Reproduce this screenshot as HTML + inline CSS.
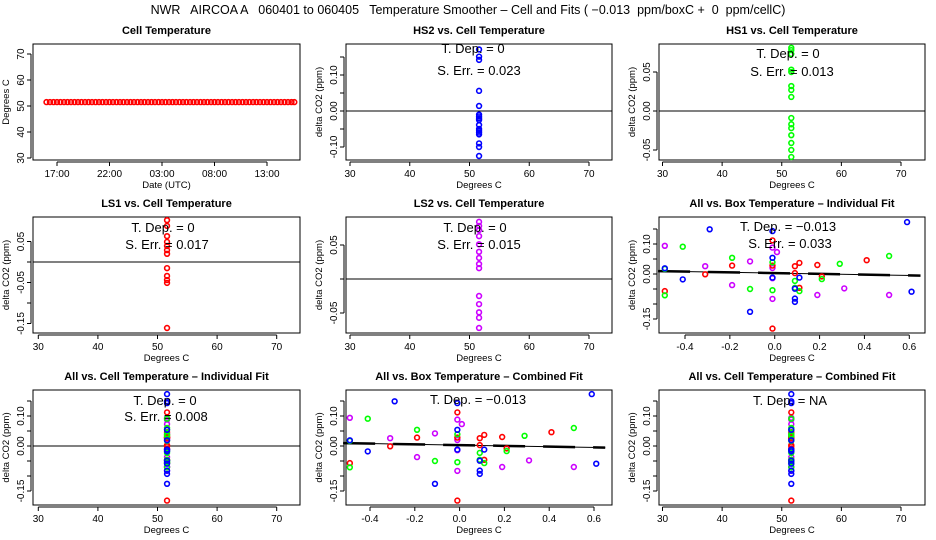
<!DOCTYPE html>
<html><head><meta charset="utf-8"><style>
body{margin:0;background:#fff;}
svg{display:block;font-family:"Liberation Sans",sans-serif;}
</style></head><body>
<svg id="c" width="936" height="540" viewBox="0 0 936 540">
<text x="468" y="14" text-anchor="middle" font-size="12.5" xml:space="preserve">NWR   AIRCOA A   060401 to 060405   Temperature Smoother – Cell and Fits ( −0.013  ppm/boxC +  0  ppm/cellC)</text>
</svg>
<script>
const cellTimes=[16,16.33,16.67,17,17.33,17.67,18,18.33,18.67,19,19.33,19.67,20,20.33,20.67,21,21.33,21.67,22,22.33,22.67,23,23.33,23.67,24,24.33,24.67,25,25.33,25.67,26,26.33,26.67,27,27.33,27.67,28,28.33,28.67,29,29.33,29.67,30,30.33,30.67,31,31.33,31.67,32,32.33,32.67,33,33.33,33.67,34,34.33,34.67,35,35.33,35.67,36,36.33,36.67,37,37.33,37.67,38,38.33,38.67,39,39.33,39.6];
const cellTemps=[51.5,51.5,51.5,51.5,51.5,51.5,51.5,51.5,51.5,51.5,51.5,51.5,51.5,51.5,51.5,51.5,51.5,51.5,51.5,51.5,51.5,51.5,51.5,51.5,51.5,51.5,51.5,51.5,51.5,51.5,51.5,51.5,51.5,51.5,51.5,51.5,51.5,51.5,51.5,51.5,51.5,51.5,51.5,51.5,51.5,51.5,51.5,51.5,51.5,51.5,51.5,51.5,51.5,51.5,51.5,51.5,51.5,51.5,51.5,51.5,51.5,51.5,51.5,51.5,51.5,51.5,51.5,51.5,51.5,51.5,51.5,51.5];
const timeTicks=[17,22,27,32,37];
const timeTickLabels=["17:00","22:00","03:00","08:00","13:00"];
const cellT=51.6;
const hs2=[0.171,0.151,0.142,0.056,0.014,-0.01,-0.015,-0.02,-0.025,-0.039,-0.05,-0.055,-0.06,-0.065,-0.09,-0.1,-0.125];
const hs1=[0.081,0.078,0.073,0.053,0.05,0.032,0.027,0.018,-0.009,-0.017,-0.022,-0.031,-0.041,-0.05,-0.059];
const ls1=[0.102,0.088,0.063,0.049,0.039,0.029,0.02,-0.015,-0.034,-0.044,-0.051,-0.161];
const ls2=[0.084,0.078,0.072,0.063,0.051,0.04,0.031,0.022,0.016,-0.025,-0.037,-0.049,-0.057,-0.072];
const boxBlueX=[-0.49,-0.41,-0.29,-0.11,-0.01,-0.01,0.09,0.09,0.09,0.11,0.59,0.61,-0.01];
const boxBlueY=[0.019,-0.018,0.149,-0.126,0.143,0.054,-0.049,-0.082,-0.093,-0.012,0.173,-0.059,-0.012];
const boxGreenX=[-0.49,-0.49,-0.41,-0.19,-0.11,-0.01,-0.01,0.09,0.09,0.11,0.21,0.29,0.51];
const boxGreenY=[0.017,-0.071,0.091,0.054,-0.05,0.039,-0.054,-0.023,-0.046,-0.057,-0.017,0.034,0.06];
const boxRedX=[-0.49,-0.31,-0.19,-0.01,-0.01,-0.01,0.09,0.09,0.11,0.11,0.19,0.21,0.41];
const boxRedY=[-0.057,-0.001,0.028,0.112,0.028,-0.182,0.026,0.003,0.037,-0.046,0.03,-0.008,0.046];
const boxMagX=[-0.49,-0.31,-0.19,-0.11,-0.01,-0.01,-0.01,-0.01,0.01,0.19,0.31,0.51];
const boxMagY=[0.094,0.026,-0.037,0.042,0.088,0.02,-0.014,-0.083,0.073,-0.07,-0.048,-0.07];
const fitSlope=-0.013, fitIntercept=0.003;

const svg=document.getElementById('c');
const NS='http://www.w3.org/2000/svg';
function mk(tag,attrs,parent){const e=document.createElementNS(NS,tag);for(const k in attrs)e.setAttribute(k,attrs[k]);(parent||svg).appendChild(e);return e;}
function lin(v1,p1,v2,p2){return v=>p1+(v-v1)*(p2-p1)/(v2-v1);}
const COLS=[[33,300],[346,612],[659,925]];
const ROWS=[[44,160],[217,333],[390,505]];
const tempX=[lin(30,38.3,70,276.7),lin(30,350,70,589),lin(30,662.5,70,901)];
const boxXs=[null,lin(-0.4,370,0.6,594),lin(-0.4,685,0.6,909.3)];

function panel(name,col,row,title,xs,ys,xt,xl,yt,yl,ylab,xlab){
  const g=mk('g',{});
  
  
  const [l,r]=COLS[col],[t,b]=ROWS[row];
  const tt=mk('text',{x:(l+r)/2,y:t-10,'text-anchor':'middle','font-size':'11','font-weight':'bold'},g);tt.textContent=title;
  
  
  const bx=mk('rect',{x:l,y:t,width:r-l,height:b-t,fill:'none',stroke:'#000','stroke-width':1},g);
  
  
  const xa=mk('g',{},g);
  
  
  mk('line',{x1:xs(xt[0]),x2:xs(xt[xt.length-1]),y1:b+2,y2:b+2,stroke:'#000'},xa);
  xt.forEach((v,i)=>{const x=xs(v);mk('line',{x1:x,x2:x,y1:b+2,y2:b+6,stroke:'#000'},xa);
    const tx=mk('text',{x:x,y:b+17,'text-anchor':'middle','font-size':'10'},xa);tx.textContent=xl[i];});
  const xtl=mk('text',{x:(l+r)/2,y:b+28,'text-anchor':'middle','font-size':'9.5'},g);xtl.textContent=xlab;
  
  
  const ya=mk('g',{},g);
  
  
  mk('line',{x1:l-2,x2:l-2,y1:ys(yt[0]),y2:ys(yt[yt.length-1]),stroke:'#000'},ya);
  yt.forEach((v,i)=>{const y=ys(v);mk('line',{x1:l-6,x2:l-2,y1:y,y2:y,stroke:'#000'},ya);
    if(yl[i]){const tx=mk('text',{x:l-9,y:y,'text-anchor':'middle','font-size':'10',transform:`rotate(-90 ${l-9} ${y})`},ya);tx.textContent=yl[i];}});
  const ytl=mk('text',{x:0,y:0,'text-anchor':'middle','font-size':'9.5',transform:`translate(${l-24} ${(t+b)/2}) rotate(-90)`},g);ytl.textContent=ylab;
  
  
  return {g,l,r,t,b};
}
function pts(p,xsArr,ysArr,xs,ys,color,name){
  const g=mk('g',{},p.g);
  
  
  xsArr.forEach((xv,i)=>{const c=mk('circle',{cx:xs(xv),cy:ys(ysArr[i]),r:2.4,fill:'none',stroke:color,'stroke-width':1.6},g);
    
    });
}
function hline(p,ys){mk('line',{x1:p.l,x2:p.r,y1:ys(0),y2:ys(0),stroke:'#000'},p.g);}
function txt(p,x,y,s,name){const e=mk('text',{x:x,y:y,'text-anchor':'middle','font-size':'13'},p.g);e.textContent=s;
  
  }
function fit(p,xs,ys){const x0=-0.52,x1=0.65;
  const f=v=>fitIntercept+fitSlope*v;
  const l=mk('line',{x1:xs(x0),x2:xs(x1),y1:ys(f(x0)),y2:ys(f(x1)),stroke:'#000','stroke-width':1},p.g);
  
  
  mk('line',{x1:xs(x0),x2:xs(x1),y1:ys(f(x0)),y2:ys(f(x1)),stroke:'#000','stroke-width':2.5,'stroke-dasharray':'32 18'},p.g);}
const tT=[30,40,50,60,70],tL=["30","40","50","60","70"];
const rep=(a,v)=>a.map(()=>v);
const dC='delta CO2 (ppm)',DC='Degrees C';
// Panel 1
{const ys=lin(30,158,70,54);const xs=lin(17,57,22,109.5);
 const p=panel('cell-temperature-panel',0,0,'Cell Temperature',xs,ys,timeTicks,timeTickLabels,tT,tL,'Degrees C','Date (UTC)');
 pts(p,cellTimes,cellTemps,xs,ys,'#f00','cell-temp-series');}
// Panel 2
{const ys=lin(0,111,0.1,75);const xs=tempX[1];
 const p=panel('hs2-panel',1,0,'HS2 vs. Cell Temperature',xs,ys,tT,tL,[-0.1,-0.05,0,0.05,0.1,0.15],['-0.10','','0.00','','0.10',''],dC,DC);
 hline(p,ys);pts(p,rep(hs2,cellT),hs2,xs,ys,'#00f','hs2-series');
 txt(p,473,53,'T. Dep. =  0','tdep-label');txt(p,479,75,'S. Err. = 0.023','serr-label');}
// Panel 3
{const ys=lin(0,111,0.05,72);const xs=tempX[2];
 const p=panel('hs1-panel',2,0,'HS1 vs. Cell Temperature',xs,ys,tT,tL,[-0.05,0,0.05],['-0.05','0.00','0.05'],dC,DC);
 hline(p,ys);pts(p,rep(hs1,cellT),hs1,xs,ys,'#0f0','hs1-series');
 txt(p,788,58,'T. Dep. =  0','tdep-label');txt(p,792,76,'S. Err. = 0.013','serr-label');}
// Panel 4
{const ys=lin(0,262,0.05,241.5);const xs=tempX[0];
 const p=panel('ls1-panel',0,1,'LS1 vs. Cell Temperature',xs,ys,tT,tL,[-0.15,-0.1,-0.05,0,0.05],['-0.15','','-0.05','','0.05'],dC,DC);
 hline(p,ys);pts(p,rep(ls1,cellT),ls1,xs,ys,'#f00','ls1-series');
 txt(p,163,232,'T. Dep. =  0','tdep-label');txt(p,167,249,'S. Err. = 0.017','serr-label');}
// Panel 5
{const ys=lin(0,279,0.05,245);const xs=tempX[1];
 const p=panel('ls2-panel',1,1,'LS2 vs. Cell Temperature',xs,ys,tT,tL,[-0.05,0,0.05],['-0.05','','0.05'],dC,DC);
 hline(p,ys);pts(p,rep(ls2,cellT),ls2,xs,ys,'#c0f','ls2-series');
 txt(p,475,232,'T. Dep. =  0','tdep-label');txt(p,479,249,'S. Err. = 0.015','serr-label');}
const bT=[-0.4,-0.2,0,0.2,0.4,0.6],bL=['-0.4','-0.2','0.0','0.2','0.4','0.6'];
const dT=[-0.15,-0.1,-0.05,0,0.05,0.1,0.15],dL=['-0.15','','','0.00','','0.10',''];
function allBox(p,xs,ys){
 pts(p,boxMagX,boxMagY,xs,ys,'#c0f','magenta-series');
 pts(p,boxRedX,boxRedY,xs,ys,'#f00','red-series');
 pts(p,boxGreenX,boxGreenY,xs,ys,'#0f0','green-series');
 pts(p,boxBlueX,boxBlueY,xs,ys,'#00f','blue-series');}
function allCell(p,xs,ys){
 pts(p,rep(boxMagY,cellT),boxMagY,xs,ys,'#c0f','magenta-series');
 pts(p,rep(boxRedY,cellT),boxRedY,xs,ys,'#f00','red-series');
 pts(p,rep(boxGreenY,cellT),boxGreenY,xs,ys,'#0f0','green-series');
 pts(p,rep(boxBlueY,cellT),boxBlueY,xs,ys,'#00f','blue-series');}
// Panel 6
{const ys=lin(0,274,0.1,244);const xs=boxXs[2];
 const p=panel('all-box-individual-panel',2,1,'All vs. Box Temperature – Individual Fit',xs,ys,bT,bL,dT,dL,dC,DC);
 fit(p,xs,ys);allBox(p,xs,ys);
 txt(p,788,231,'T. Dep. =  −0.013','tdep-label');txt(p,790,248,'S. Err. = 0.033','serr-label');}
// Panel 7
{const ys=lin(0,446,0.1,416);const xs=tempX[0];
 const p=panel('all-cell-individual-panel',0,2,'All vs. Cell Temperature – Individual Fit',xs,ys,tT,tL,dT,dL,dC,DC);
 hline(p,ys);allCell(p,xs,ys);
 txt(p,165,405,'T. Dep. =  0','tdep-label');txt(p,166,421,'S. Err. = 0.008','serr-label');}
// Panel 8
{const ys=lin(0,446,0.1,416);const xs=boxXs[1];
 const p=panel('all-box-combined-panel',1,2,'All vs. Box Temperature – Combined Fit',xs,ys,bT,bL,dT,dL,dC,DC);
 fit(p,xs,ys);allBox(p,xs,ys);
 txt(p,478,404,'T. Dep. =  −0.013','tdep-label');}
// Panel 9
{const ys=lin(0,446,0.1,416);const xs=tempX[2];
 const p=panel('all-cell-combined-panel',2,2,'All vs. Cell Temperature – Combined Fit',xs,ys,tT,tL,dT,dL,dC,DC);
 allCell(p,xs,ys);
 txt(p,790,405,'T. Dep. =  NA','tdep-label');}
</script>
</body></html>
